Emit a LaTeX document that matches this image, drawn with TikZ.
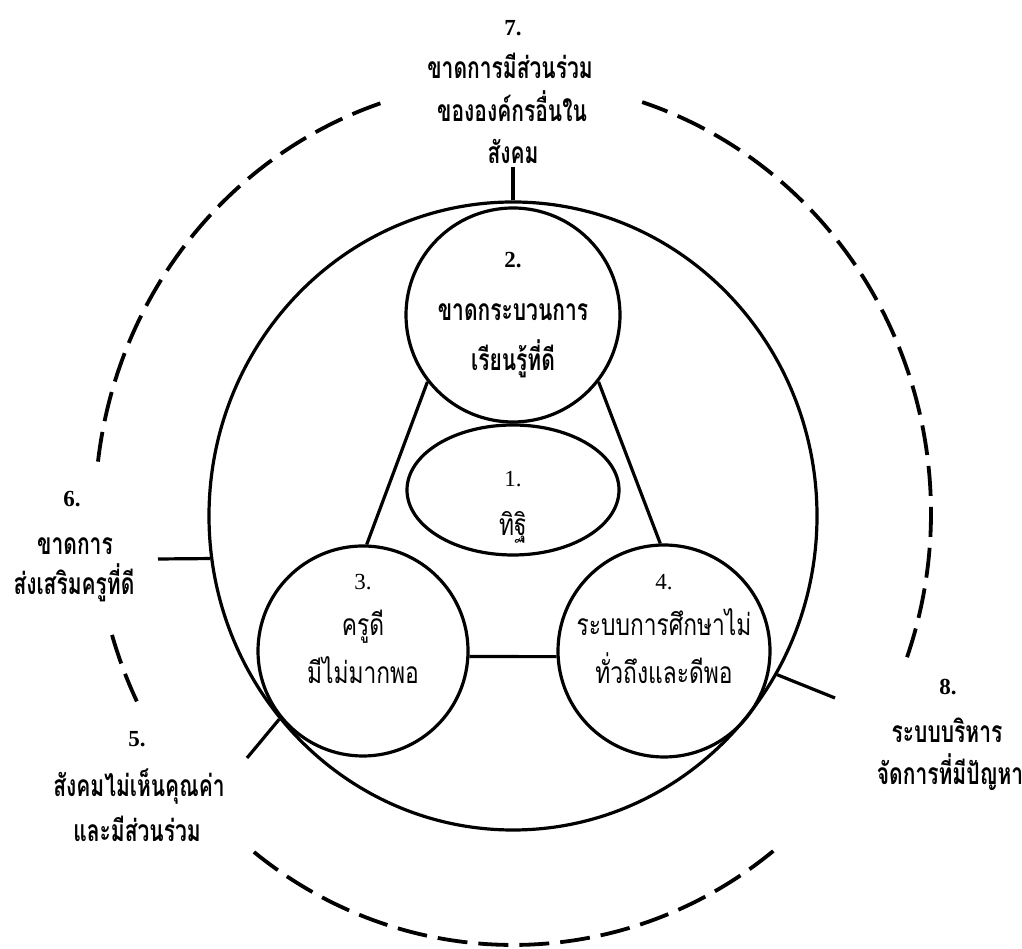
\documentclass[tikz,border=0pt]{standalone}
\usepackage{fontspec}
\setmainfont{Liberation Serif}
\newfontfamily\thaib[Script=Thai,FakeStretch=0.7]{Loma}
\newfontfamily\thair[Script=Thai,FakeStretch=0.76]{Loma}
\usetikzlibrary{shapes.geometric}

\tikzset{
  ln/.style={line width=3.2pt, draw=black},
  dashln/.style={line width=3.8pt, dash pattern=on 30pt off 11pt},
  num/.style={inner sep=0pt, anchor=base, font=\fontsize{23}{26}\selectfont},
  numb/.style={inner sep=0pt, anchor=base, font=\fontsize{23}{26}\selectfont\bfseries},
  th/.style={inner sep=0pt, anchor=base, font=\thair\fontsize{30}{34}\selectfont},
  thb/.style={inner sep=0pt, anchor=base, font=\thaib\fontsize{30}{34}\selectfont\bfseries},
  circ/.style={ln, circle, inner sep=0pt},
  ell/.style={ln, ellipse, inner sep=0pt},
}

\begin{document}
\begin{tikzpicture}[x=1pt,y=1pt]
\useasboundingbox (0,0) rectangle (1022,949);

% outer dashed ellipse, drawn as arcs with gaps for the labels
\begin{scope}[dashln]
  \draw (513,436) ++(108.5:418 and 432) arc[start angle=108.5, end angle=174.3, x radius=418, y radius=432];
  \draw (513,436) ++(196.4:418 and 432) arc[start angle=196.4, end angle=206.5, x radius=418, y radius=432];
  \draw (513,436) ++(231.7:418 and 432) arc[start angle=231.7, end angle=309.5, x radius=418, y radius=432];
  \draw (513,436) ++(340.5:418 and 432) arc[start angle=340.5, end angle=432, x radius=418, y radius=432];
\end{scope}

% big circle
\node[ell, minimum width=608pt, minimum height=628pt] (big) at (513,433) {};

% inner circles
\node[circ, minimum size=214pt] (c2) at (513,634) {};
\node[ell, minimum width=212pt, minimum height=130pt] (c1) at (513,459) {};
\node[circ, minimum size=210pt] (c3) at (363,298) {};
\node[circ, minimum size=212pt] (c4) at (664,298) {};

% triangle connectors
\draw[ln] (c2.218) -- (c3.88);
\draw[ln] (c2.322) -- (c4.92);
\draw[ln] (c3.-3) -- (c4.183);

% connectors to outer labels
\coordinate (k7) at (513,782);
\coordinate (k6) at (158,390);
\coordinate (k8) at (835,251);
\coordinate (k5) at (247,191);
\draw[ln] (big.north) -- (k7);
\draw[ln] (big.188) -- (k6);
\draw[ln] (big.-31) -- (k8);
\draw[ln] (big.221.5) -- (k5);

% label 7
\node[numb] (n7) at (513,913.5) {7.};
\node[thb] (t7a) at (510,870) {ขาดการมีส่วนร่วม};
\node[thb] (t7b) at (512,827) {ขององค์กรอื่นใน};
\node[thb] (t7c) at (513,785) {สังคม};

% label 2
\node[numb] (n2) at (513,681.5) {2.};
\node[thb] (t2a) at (513,628) {ขาดกระบวนการ};
\node[thb] (t2b) at (513,578) {เรียนรู้ที่ดี};

% label 1
\node[num] (n1) at (513,462) {1.};
\node[th] (t1a) at (513,413) {ทิฐิ};

% label 3
\node[num] (n3) at (363,359) {3.};
\node[th] (t3a) at (363,313) {ครูดี};
\node[th] (t3b) at (363,265) {มีไม่มากพอ};

% label 4
\node[num] (n4) at (664,359) {4.};
\node[th] (t4a) at (664,313) {ระบบการศึกษาไม่};
\node[th] (t4b) at (664,265) {ทั่วถึงและดีพอ};

% label 6
\node[numb] (n6) at (72,442) {6.};
\node[thb] (t6a) at (75,394) {ขาดการ};
\node[thb] (t6b) at (74,354) {ส่งเสริมครูที่ดี};

% label 5
\node[numb] (n5) at (137,202) {5.};
\node[thb] (t5a) at (139,152) {สังคมไม่เห็นคุณค่า};
\node[thb] (t5b) at (137,107) {และมีส่วนร่วม};

% label 8
\node[numb] (n8) at (948,254) {8.};
\node[thb] (t8a) at (947,206) {ระบบบริหาร};
\node[thb] (t8b) at (950,164) {จัดการที่มีปัญหา};
\end{tikzpicture}
\end{document}
